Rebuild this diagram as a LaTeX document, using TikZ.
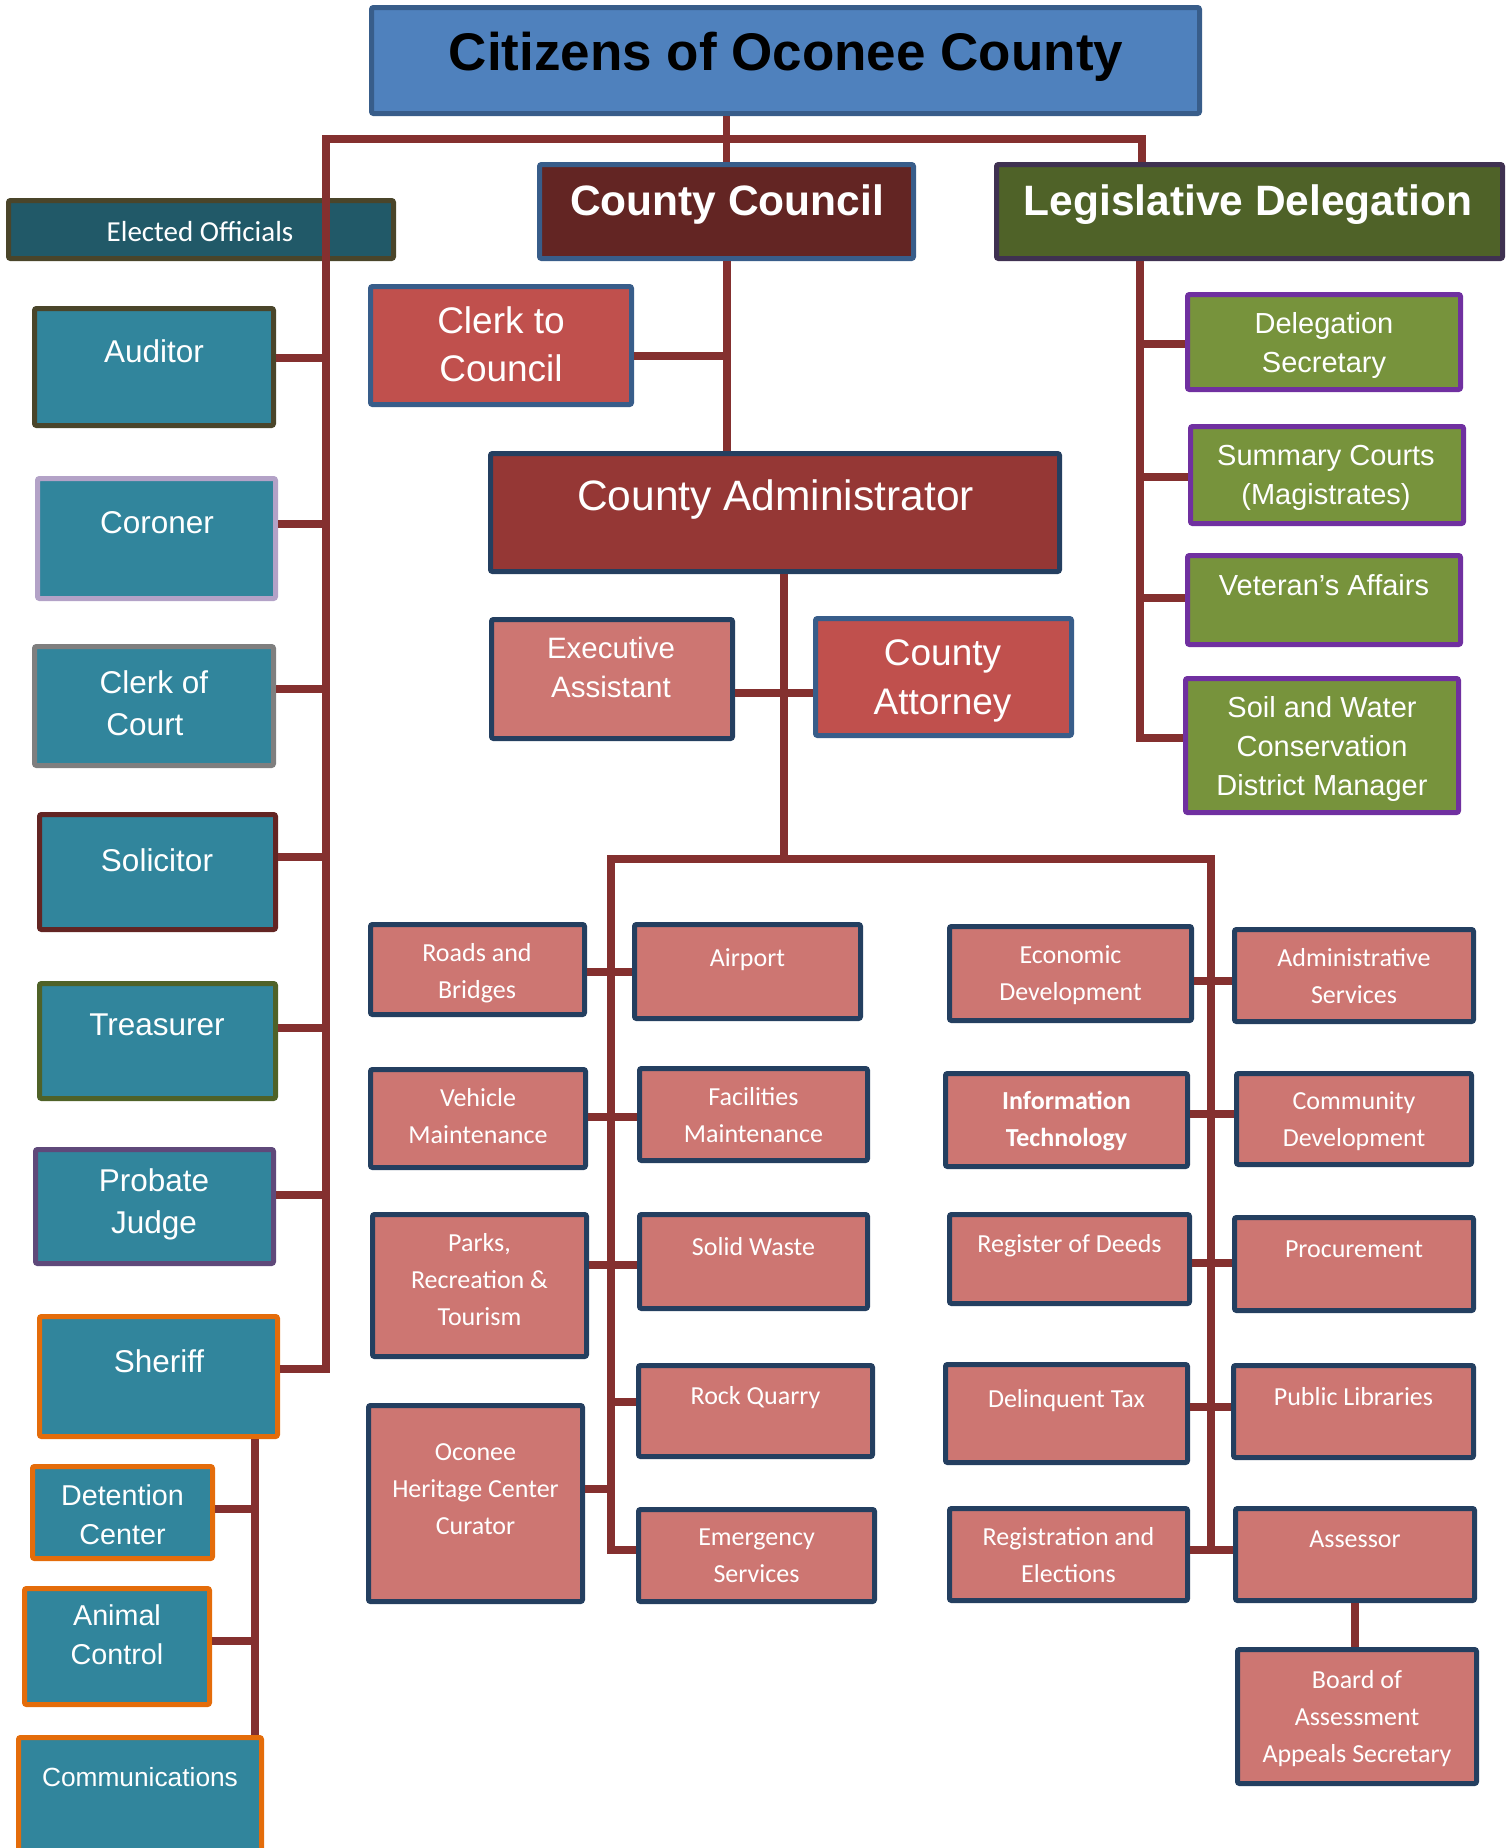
\documentclass[tikz,border=0pt]{standalone}
\usepackage{fontspec}
\setmainfont{Liberation Sans}
\newfontfamily\calfont{Carlito}
\usetikzlibrary{calc}
\definecolor{citF}{HTML}{4F81BD}
\definecolor{citB}{HTML}{385D8A}
\definecolor{ccF}{HTML}{632523}
\definecolor{ldF}{HTML}{4F6228}
\definecolor{ldB}{HTML}{3F3151}
\definecolor{eoF}{HTML}{215968}
\definecolor{eoB}{HTML}{4A452A}
\definecolor{elF}{HTML}{31859C}
\definecolor{corB}{HTML}{B3A2C7}
\definecolor{cocB}{HTML}{7F7F7F}
\definecolor{solB}{HTML}{632523}
\definecolor{treB}{HTML}{4F6228}
\definecolor{proB}{HTML}{5F497A}
\definecolor{orgB}{HTML}{E46C0A}
\definecolor{redF}{HTML}{C0504D}
\definecolor{caF}{HTML}{953735}
\definecolor{navB}{HTML}{243F60}
\definecolor{deptF}{HTML}{CD7672}
\definecolor{legF}{HTML}{77933C}
\definecolor{legB}{HTML}{7030A0}
\definecolor{lineC}{RGB}{132,48,47}
\newcommand\obox[6]{\node[#2, minimum width={#5-#3-5}, minimum height={#6-#4-5}] (#1) at ({(#3+#5)/2},{(#4+#6)/2}) {};}
\newcommand\otext[5]{\node[txt,#2] (#1) at (#3,#4) {#5};}
\tikzset{
  box/.style={draw, line width=5pt, rounded corners=2pt, inner sep=0pt},
  elbox/.style={box, fill=elF},
  legbox/.style={box, draw=legB, fill=legF},
  dbox/.style={box, draw=navB, fill=deptF},
  conn/.style={draw=lineC, line width=8pt, line join=miter},
  txt/.style={text=white, align=center, text depth=0pt, inner sep=0pt},
  fCit/.style={font=\bfseries\fontsize{53}{60}\selectfont},
  fHead/.style={font=\bfseries\fontsize{42.5}{50}\selectfont},
  fCA/.style={font=\fontsize{42.5}{50}\selectfont},
  fClerk/.style={font=\fontsize{37}{48.5}\selectfont},
  fEA/.style={font=\fontsize{29.5}{39}\selectfont},
  fEl/.style={font=\fontsize{31.5}{42}\selectfont},
  fSh/.style={font=\fontsize{28.7}{39}\selectfont},
  fComm/.style={font=\fontsize{26.3}{32}\selectfont},
  fLeg/.style={font=\fontsize{29}{39}\selectfont},
  fDept/.style={font=\calfont\fontsize{26}{37}\selectfont},
  fEO/.style={font=\calfont\fontsize{29}{35}\selectfont},
}
\begin{document}
\begin{tikzpicture}[x=1pt,y=-1pt]
\useasboundingbox (0,0) rectangle (1512,1848);
% ---- top level boxes
\obox{cit}{box, draw=citB, fill=citF}{369}{5}{1202}{116}
\obox{cc}{box, draw=citB, fill=ccF}{537}{162}{916}{261}
\obox{ld}{box, draw=ldB, fill=ldF}{994}{162}{1505}{261}
\obox{eo}{box, draw=eoB, fill=eoF}{6}{198}{396}{261}
% ---- elected officials
\obox{aud}{elbox, draw=eoB}{32}{306}{276}{428}
\obox{cor}{elbox, draw=corB}{35}{476}{278}{601}
\obox{coc}{elbox, draw=cocB}{32}{644}{276}{768}
\obox{sol}{elbox, draw=solB}{37}{812}{278}{932}
\obox{tre}{elbox, draw=treB}{37}{981}{278}{1101}
\obox{pro}{elbox, draw=proB}{33}{1147}{276}{1266}
\obox{she}{elbox, draw=orgB}{37}{1314}{280}{1439}
\obox{det}{elbox, draw=orgB}{30}{1464}{215}{1561}
\obox{ani}{elbox, draw=orgB}{22}{1586}{212}{1707}
\obox{com}{elbox, draw=orgB}{16}{1735}{264}{1872}
% ---- council side
\obox{ctc}{box, draw=citB, fill=redF}{368}{284}{634}{407}
\obox{ca}{box, draw=navB, fill=caF}{488}{451}{1062}{574}
\obox{ea}{box, draw=navB, fill=deptF}{489}{617}{735}{741}
\obox{catt}{box, draw=citB, fill=redF}{813}{616}{1074}{738}
% ---- legislative side
\obox{ds}{legbox}{1185}{292}{1463}{392}
\obox{sc}{legbox}{1188}{424}{1466}{526}
\obox{va}{legbox}{1185}{553}{1463}{647}
\obox{sw}{legbox}{1183}{676}{1461}{815}
% ---- departments left
\obox{rb}{dbox}{368}{922}{587}{1017}
\obox{ap}{dbox}{632}{922}{863}{1021}
\obox{vm}{dbox}{368}{1067}{588}{1170}
\obox{fm}{dbox}{637}{1066}{870}{1163}
\obox{pk}{dbox}{370}{1212}{589}{1359}
\obox{swa}{dbox}{637}{1212}{870}{1311}
\obox{rq}{dbox}{636}{1363}{875}{1459}
\obox{hc}{dbox}{366}{1403}{585}{1604}
\obox{es}{dbox}{636}{1507}{877}{1604}
% ---- departments right
\obox{ed}{dbox}{947}{924}{1194}{1023}
\obox{as}{dbox}{1232}{927}{1476}{1024}
\obox{it}{dbox}{943}{1071}{1190}{1169}
\obox{cd}{dbox}{1234}{1071}{1474}{1167}
\obox{rd}{dbox}{947}{1212}{1192}{1306}
\obox{pr}{dbox}{1232}{1215}{1476}{1313}
\obox{dt}{dbox}{943}{1362}{1190}{1465}
\obox{pl}{dbox}{1231}{1363}{1476}{1460}
\obox{re}{dbox}{947}{1506}{1190}{1603}
\obox{ass}{dbox}{1233}{1506}{1477}{1603}
\obox{boa}{dbox}{1235}{1647}{1479}{1786}
% ---- texts
\otext{cit-t}{fCit, text=black}{786}{51}{Citizens of Oconee County}
\otext{cc-t}{fHead}{727}{200}{County Council}
\otext{ld-t}{fHead}{1248}{200}{Legislative Delegation}
\otext{eo-t}{fEO}{200}{231}{Elected Officials}
\otext{aud-t}{fEl}{154}{351}{Auditor}
\otext{cor-t}{fEl}{157}{522}{Coroner}
\otext{coc-t}{fEl}{154}{703}{Clerk of\\Court\hspace*{18pt}}
\otext{sol-t}{fEl}{157}{860}{Solicitor}
\otext{tre-t}{fEl}{157}{1025}{Treasurer}
\otext{pro-t}{fEl}{154}{1201}{Probate\\Judge}
\otext{she-t}{fEl}{159}{1361}{Sheriff}
\otext{det-t}{fSh}{122.5}{1515}{Detention\\Center}
\otext{ani-t}{fSh}{117}{1635}{Animal\\Control}
\otext{com-t}{fComm}{140}{1777}{Communications}
\otext{ctc-t}{fClerk}{501}{344}{Clerk to\\Council}
\otext{ca-t}{fCA}{775.5}{495}{County Administrator}
\otext{ea-t}{fEA}{611}{667}{Executive\\Assistant}
\otext{catt-t}{fClerk}{942.5}{677}{County\\Attorney}
\otext{ds-t}{fLeg}{1324}{342.5}{Delegation\\Secretary}
\otext{sc-t}{fLeg}{1326}{474.5}{Summary Courts\\(Magistrates)}
\otext{va-t}{fLeg}{1324}{585}{Veteran’s Affairs}
\otext{sw-t}{fLeg}{1322}{746}{Soil and Water\\Conservation\\District Manager}
\otext{rb-t}{fDept}{477}{971}{Roads and\\Bridges}
\otext{ap-t}{fDept}{747.5}{958}{Airport}
\otext{vm-t}{fDept}{478}{1116}{Vehicle\\Maintenance}
\otext{fm-t}{fDept}{753.5}{1115}{Facilities\\Maintenance}
\otext{pk-t}{fDept}{479.5}{1279}{Parks,\\Recreation \&\\Tourism}
\otext{swa-t}{fDept}{753.5}{1246}{Solid Waste}
\otext{rq-t}{fDept}{755.5}{1395}{Rock Quarry}
\otext{hc-t}{fDept}{475.5}{1489}{Oconee\\Heritage Center\\Curator}
\otext{es-t}{fDept}{756.5}{1556}{Emergency\\Services}
\otext{ed-t}{fDept}{1070.5}{973}{Economic\\Development}
\otext{as-t}{fDept}{1354}{976}{Administrative\\Services}
\otext{it-t}{fDept, font=\calfont\bfseries\fontsize{26}{37}\selectfont}{1066.5}{1119}{Information\\Technology}
\otext{cd-t}{fDept}{1354}{1119}{Community\\Development}
\otext{rd-t}{fDept}{1069.5}{1243}{Register of Deeds}
\otext{pr-t}{fDept}{1354}{1249}{Procurement}
\otext{dt-t}{fDept}{1066.5}{1398}{Delinquent Tax}
\otext{pl-t}{fDept}{1353.5}{1396}{Public Libraries}
\otext{re-t}{fDept}{1068.5}{1555}{Registration and\\Elections}
\otext{ass-t}{fDept}{1355}{1539}{Assessor}
\otext{boa-t}{fDept}{1357}{1716}{Board of\\Assessment\\Appeals Secretary}
% ---- connectors: top
\coordinate (eoTop) at (326,139);
\coordinate (ldDrop) at (1142,139);
\coordinate (eoBot) at (326,1369);
\draw[conn] (eoBot -| she.east) -- (eoBot) -- (eoTop) -- (ldDrop) -- (ldDrop |- ld.north);
\draw[conn, line width=7pt] (cc.north |- cit.south) -- (cc.north);
% elected officials
\foreach \n/\yy in {aud/358, cor/524, coc/689, sol/857, tre/1028, pro/1195}{
  \coordinate (j-\n) at (326,\yy);
  \draw[conn] (j-\n) -- (j-\n -| \n.east);
}
\coordinate (shv) at (255,1500);
\draw[conn] (shv |- she.south) -- (shv |- com.north);
\foreach \n/\yy in {det/1509, ani/1641}{
  \coordinate (j-\n) at (255,\yy);
  \draw[conn] (j-\n) -- (j-\n -| \n.east);
}
% council
\draw[conn] (cc.south) -- (cc.south |- ca.north);
\coordinate (jctc) at (726.5,356);
\draw[conn] (jctc) -- (jctc -| ctc.east);
\coordinate (caBus) at (784,859);
\draw[conn] (caBus |- ca.south) -- (caBus);
\coordinate (jea) at (784,693);
\draw[conn] (jea -| ea.east) -- (jea -| catt.west);
% department bus
\coordinate (busL) at (611,859);
\coordinate (busR) at (1211,859);
\coordinate (busLB) at (611,1550);
\coordinate (busRB) at (1211,1550);
\draw[conn] (busLB -| es.west) -- (busLB) -- (busL) -- (busR) -- (busRB) -- (busRB -| ass.west);
\draw[conn] (busRB -| re.east) -- (busRB);
\foreach \a/\b/\yy in {rb/ap/972, vm/fm/1117, pk/swa/1265, ed/as/981, it/cd/1114, rd/pr/1263, dt/pl/1407}{
  \coordinate (j-\a) at (700,\yy);
  \draw[conn] (j-\a -| \a.east) -- (j-\a -| \b.west);
}
\coordinate (jrq) at (611,1402);
\draw[conn] (jrq) -- (jrq -| rq.west);
\coordinate (jhc) at (611,1489);
\draw[conn] (jhc -| hc.east) -- (jhc);
\draw[conn] (ass.south) -- (ass.south |- boa.north);
% legislative
\coordinate (ldv) at (1140,738);
\draw[conn] (ldv |- ld.south) -- (ldv) -- (ldv -| sw.west);
\foreach \n/\yy in {ds/344, sc/477, va/598}{
  \coordinate (j-\n) at (1140,\yy);
  \draw[conn] (j-\n) -- (j-\n -| \n.west);
}
\end{tikzpicture}
\end{document}
